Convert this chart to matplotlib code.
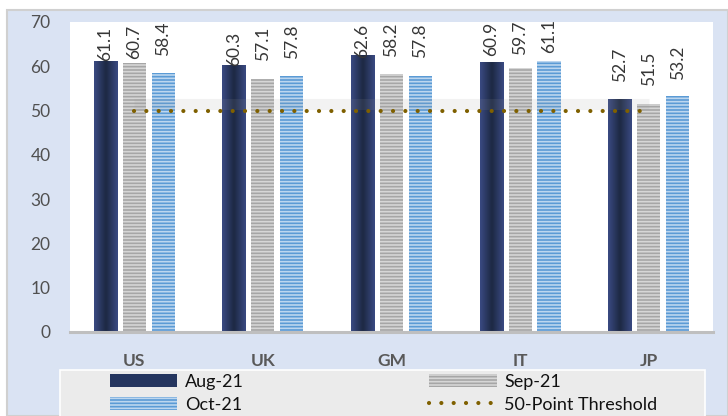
import numpy as np
import matplotlib
matplotlib.use("Agg")
import matplotlib.pyplot as plt
import matplotlib.transforms as mtransforms
from matplotlib.patches import Rectangle

plt.rcParams['font.family'] = ['Lato', 'DejaVu Sans']
plt.rcParams['hatch.linewidth'] = 1.2

# Manufacturing PMI readings by country
countries = ["US", "UK", "GM", "IT", "JP"]
aug_21 = [61.1, 60.3, 62.6, 60.9, 52.7]
sep_21 = [60.7, 57.1, 58.2, 59.7, 51.5]
oct_21 = [58.4, 57.8, 57.8, 61.1, 53.2]
threshold = [50, 50, 50, 50, 50]
y_ticks = [0, 10, 20, 30, 40, 50, 60, 70]

# gap (pixels) between each bar top and its value label
label_gap_aug = [0, -1, -3, 6, 17]
label_gap_sep = [4, 18, 17, 13, 18]
label_gap_oct = [17, 17, 18, 8, 16]

W, H = 728, 416
fig = plt.figure(figsize=(W / 100, H / 100), dpi=100)
fig.patch.set_facecolor("white")

# light blue panel behind the chart
fig.patches.append(Rectangle((7 / W, 0), 1 - 7 / W, 1 - 10 / H, transform=fig.transFigure,
                             facecolor="#dae3f3", edgecolor="#d0d0d0", linewidth=1.5, zorder=0))

ax = fig.add_axes([70 / W, 1 - 332 / H, (713 - 70) / W, (332 - 22) / H])
ax.set_facecolor("white")
ax.set_zorder(1)

x = np.arange(len(countries))
step, width = 0.225, 0.18

bars_aug = ax.bar(x - step, aug_21, width, color="#25365f", linewidth=0, label="Aug-21", zorder=2)
bars_sep = ax.bar(x, sep_21, width, facecolor="#a6a6a6", edgecolor="#d6d6d6", hatch="-----",
                  linewidth=0, label="Sep-21", zorder=2)
bars_oct = ax.bar(x + step, oct_21, width, facecolor="#5b9bd5", edgecolor="#bcd6ef", hatch="-----",
                  linewidth=0, label="Oct-21", zorder=2)

# horizontal shading across the dark bars
grad = np.abs(np.linspace(-1, 1, 64))[None, :]
cmap = matplotlib.colors.LinearSegmentedColormap.from_list("navy", ["#1d2944", "#3a4a82"])
for b in bars_aug:
    im = ax.imshow(grad, cmap=cmap, aspect="auto", interpolation="bicubic",
                   extent=(b.get_x(), b.get_x() + b.get_width(), 0, b.get_height()), zorder=2.1)
    im.set_clip_path(b)

# soft shadow and dotted threshold line
ax.plot(x, [v + 1.5 for v in threshold], color="#9a9a9a", alpha=0.12, linewidth=8,
        solid_capstyle="butt", zorder=3)
thr_line, = ax.plot(x, threshold, color="#7f6000", linewidth=3.0, linestyle=(0, (0.01, 2.95)),
                    dash_capstyle="round", label="50-Point Threshold", zorder=4)

# rotated value labels
for bars, vals, gaps in ((bars_aug, aug_21, label_gap_aug), (bars_sep, sep_21, label_gap_sep),
                         (bars_oct, oct_21, label_gap_oct)):
    for b, v, g in zip(bars, vals, gaps):
        tr = mtransforms.offset_copy(ax.transData, fig=fig, y=g, units="dots")
        ax.text(b.get_x() + b.get_width() / 2, v, f"{v:.1f}", rotation=90, transform=tr,
                ha="center", va="bottom", fontsize=12.5, color="#363636", clip_on=True, zorder=5)

ax.set_xlim(-0.5, len(countries) - 0.5)
ax.set_ylim(0, 70)
ax.set_yticks(y_ticks)
ax.set_xticks(x)
ax.set_xticklabels(countries, fontweight="bold", fontsize=12.5, color="#595959")
ax.tick_params(axis="y", length=0, labelsize=12.5, labelcolor="#505050", pad=14)
ax.tick_params(axis="x", length=0, pad=15)
for s in ("top", "right", "left"):
    ax.spines[s].set_visible(False)
ax.spines["bottom"].set_color("#bfbfbf")
ax.spines["bottom"].set_linewidth(2.2)

# legend box
fig.patches.append(Rectangle((60 / W, -0.05), (705 - 60) / W, 0.05 + 1 - 370 / H,
                             transform=fig.transFigure, facecolor="#ebebeb",
                             edgecolor="white", linewidth=1.2, zorder=1))
handles = [bars_aug[0], bars_sep[0], bars_oct[0], thr_line]
labels = ["Aug-21", "Sep-21", "Oct-21", "50-Point Threshold"]
order = [0, 2, 1, 3]
leg = fig.legend([handles[i] for i in order], [labels[i] for i in order], ncol=2,
                 loc="upper left", bbox_to_anchor=(107 / W, 1 - 371 / H),
                 frameon=False, fontsize=13, handlelength=3.75, handleheight=0.7,
                 handletextpad=0.4, columnspacing=10.3, labelspacing=0.38, borderpad=0.15,
                 borderaxespad=0)
for t in leg.get_texts():
    t.set_color("#111111")

fig.savefig("out.png", dpi=100)
